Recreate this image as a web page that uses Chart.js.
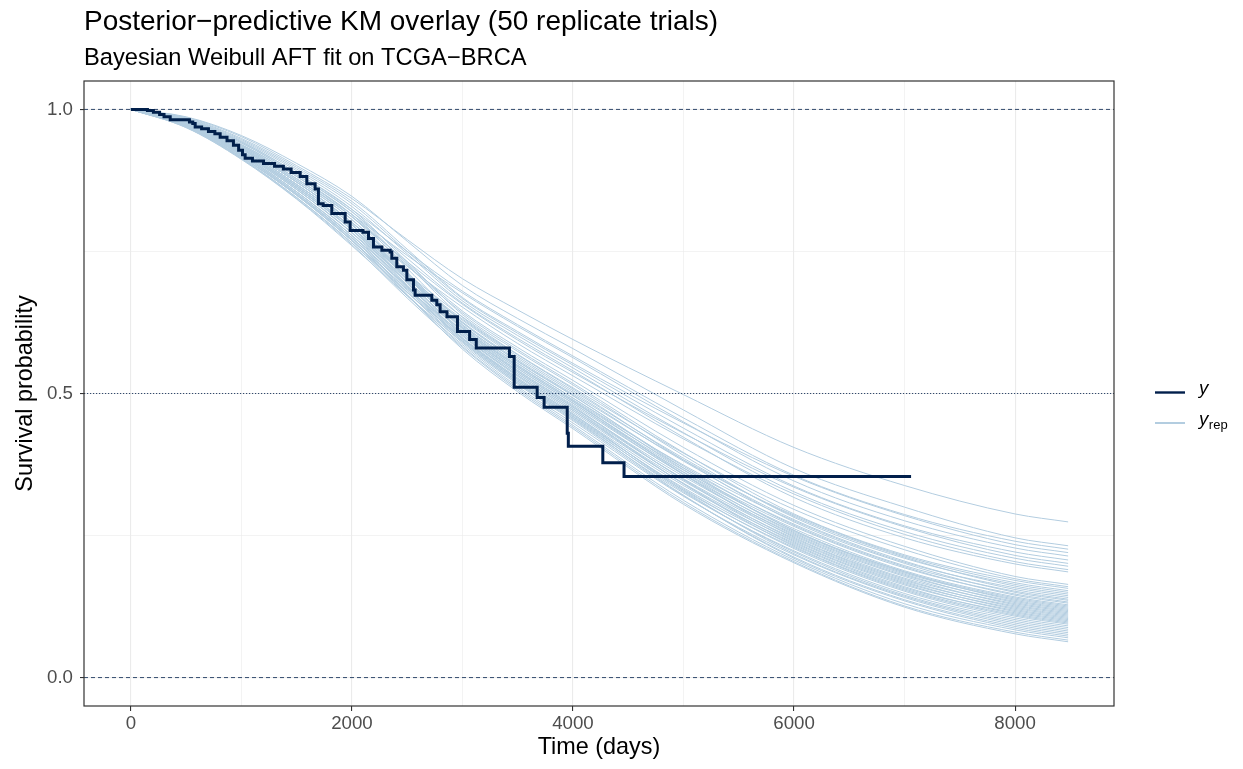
<!DOCTYPE html>
<html>
<head>
<meta charset="utf-8">
<title>Posterior-predictive KM overlay</title>
<script src="https://cdn.jsdelivr.net/npm/chart.js@4/dist/chart.umd.min.js"></script>
<style>
  html, body { margin: 0; padding: 0; background: #ffffff; }
  canvas { display: block; }
</style>
</head>
<body>
<canvas id="km" width="1243" height="769"></canvas>
<script>
// ---- Text ----
const titleText = 'Posterior\u2212predictive KM overlay (50 replicate trials)';
const subtitleText = 'Bayesian Weibull AFT fit on TCGA\u2212BRCA';
const xAxisTitle = 'Time (days)';
const yAxisTitle = 'Survival probability';

// ---- Observed Kaplan-Meier estimate (time in days, survival after each event) ----
const kmTimes = [0, 150, 204, 260, 300, 356, 530, 560, 582, 640,
  702, 760, 808, 870, 928, 975, 1010, 1034, 1100, 1200,
  1300, 1380, 1450, 1532, 1592, 1667, 1697, 1740, 1818, 1939,
  1984, 2100, 2150, 2195, 2271, 2346, 2361, 2406, 2466, 2497,
  2557, 2572, 2723, 2768, 2798, 2860, 2955, 3065, 3125, 3425,
  3468, 3676, 3739, 3948, 3958, 4270, 4462, 7059];
const kmSurv = [1, 0.998, 0.995, 0.991, 0.987, 0.982, 0.978, 0.975, 0.969, 0.966,
  0.961, 0.957, 0.951, 0.945, 0.937, 0.928, 0.920, 0.914, 0.909, 0.905,
  0.900, 0.895, 0.889, 0.882, 0.869, 0.860, 0.834, 0.831, 0.817, 0.802,
  0.787, 0.784, 0.773, 0.758, 0.752, 0.749, 0.738, 0.723, 0.717, 0.700,
  0.682, 0.673, 0.664, 0.656, 0.644, 0.635, 0.609, 0.595, 0.580, 0.565,
  0.511, 0.493, 0.476, 0.430, 0.407, 0.378, 0.354, 0.354];

// ---- Replicated KM curves (50 posterior-predictive trials) ----
const yrepTimes = [0, 500, 1000, 1500, 2000, 2500, 3000, 3500, 4000, 5000, 6000, 7000, 8000, 8480];
const yrep01 = [1, 0.986, 0.952, 0.901, 0.843, 0.771, 0.702, 0.647, 0.595, 0.498, 0.405, 0.338, 0.288, 0.274];
const yrep02 = [1, 0.987, 0.954, 0.905, 0.847, 0.768, 0.690, 0.632, 0.579, 0.471, 0.368, 0.300, 0.246, 0.232];
const yrep03 = [1, 0.982, 0.943, 0.888, 0.824, 0.750, 0.680, 0.621, 0.566, 0.457, 0.356, 0.287, 0.240, 0.226];
const yrep04 = [1, 0.985, 0.949, 0.898, 0.838, 0.754, 0.669, 0.609, 0.553, 0.448, 0.354, 0.285, 0.234, 0.220];
const yrep05 = [1, 0.980, 0.938, 0.882, 0.815, 0.743, 0.677, 0.618, 0.563, 0.450, 0.346, 0.276, 0.228, 0.214];
const yrep06 = [1, 0.984, 0.947, 0.895, 0.834, 0.750, 0.667, 0.606, 0.550, 0.439, 0.337, 0.267, 0.221, 0.207];
const yrep07 = [1, 0.979, 0.936, 0.878, 0.811, 0.732, 0.657, 0.594, 0.537, 0.430, 0.335, 0.265, 0.215, 0.201];
const yrep08 = [1, 0.983, 0.945, 0.892, 0.829, 0.746, 0.663, 0.602, 0.545, 0.431, 0.327, 0.257, 0.210, 0.196];
const yrep09 = [1, 0.977, 0.932, 0.872, 0.801, 0.724, 0.652, 0.588, 0.531, 0.420, 0.323, 0.252, 0.204, 0.190];
const yrep10 = [1, 0.981, 0.941, 0.885, 0.820, 0.738, 0.659, 0.597, 0.540, 0.423, 0.317, 0.246, 0.200, 0.186];
const yrep11 = [1, 0.980, 0.938, 0.882, 0.815, 0.729, 0.645, 0.581, 0.523, 0.405, 0.303, 0.231, 0.178, 0.164];
const yrep12 = [1, 0.975, 0.927, 0.865, 0.792, 0.711, 0.635, 0.569, 0.510, 0.395, 0.296, 0.225, 0.174, 0.160];
const yrep13 = [1, 0.979, 0.936, 0.878, 0.811, 0.725, 0.642, 0.577, 0.518, 0.396, 0.288, 0.216, 0.171, 0.157];
const yrep14 = [1, 0.976, 0.930, 0.868, 0.797, 0.710, 0.626, 0.559, 0.499, 0.383, 0.286, 0.214, 0.167, 0.153];
const yrep15 = [1, 0.982, 0.943, 0.888, 0.824, 0.732, 0.639, 0.574, 0.515, 0.391, 0.282, 0.210, 0.164, 0.150];
const yrep16 = [1, 0.974, 0.925, 0.862, 0.788, 0.706, 0.631, 0.565, 0.505, 0.386, 0.284, 0.212, 0.161, 0.147];
const yrep17 = [1, 0.978, 0.934, 0.875, 0.806, 0.713, 0.621, 0.553, 0.492, 0.374, 0.276, 0.203, 0.158, 0.144];
const yrep18 = [1, 0.973, 0.923, 0.859, 0.783, 0.702, 0.629, 0.562, 0.502, 0.381, 0.278, 0.205, 0.155, 0.141];
const yrep19 = [1, 0.977, 0.932, 0.872, 0.801, 0.709, 0.619, 0.550, 0.489, 0.369, 0.270, 0.197, 0.152, 0.138];
const yrep20 = [1, 0.981, 0.941, 0.885, 0.820, 0.727, 0.634, 0.568, 0.508, 0.383, 0.274, 0.201, 0.150, 0.136];
const yrep21 = [1, 0.976, 0.930, 0.868, 0.797, 0.705, 0.616, 0.547, 0.486, 0.365, 0.266, 0.193, 0.147, 0.133];
const yrep22 = [1, 0.972, 0.921, 0.855, 0.778, 0.697, 0.624, 0.556, 0.496, 0.372, 0.268, 0.195, 0.145, 0.131];
const yrep23 = [1, 0.978, 0.934, 0.875, 0.806, 0.710, 0.614, 0.544, 0.483, 0.362, 0.262, 0.188, 0.142, 0.128];
const yrep24 = [1, 0.975, 0.927, 0.865, 0.792, 0.705, 0.621, 0.553, 0.492, 0.366, 0.259, 0.186, 0.140, 0.126];
const yrep25 = [1, 0.971, 0.919, 0.852, 0.774, 0.689, 0.611, 0.541, 0.480, 0.358, 0.257, 0.184, 0.138, 0.124];
const yrep26 = [1, 0.980, 0.938, 0.882, 0.815, 0.720, 0.625, 0.557, 0.497, 0.369, 0.259, 0.186, 0.136, 0.122];
const yrep27 = [1, 0.974, 0.925, 0.862, 0.788, 0.696, 0.609, 0.538, 0.476, 0.354, 0.253, 0.180, 0.134, 0.120];
const yrep28 = [1, 0.977, 0.932, 0.872, 0.801, 0.708, 0.616, 0.547, 0.486, 0.361, 0.255, 0.182, 0.132, 0.118];
const yrep29 = [1, 0.970, 0.916, 0.849, 0.769, 0.684, 0.606, 0.535, 0.473, 0.350, 0.249, 0.175, 0.130, 0.116];
const yrep30 = [1, 0.976, 0.930, 0.868, 0.797, 0.704, 0.614, 0.544, 0.483, 0.357, 0.251, 0.178, 0.128, 0.114];
const yrep31 = [1, 0.973, 0.923, 0.859, 0.783, 0.691, 0.603, 0.532, 0.470, 0.346, 0.245, 0.171, 0.126, 0.112];
const yrep32 = [1, 0.979, 0.936, 0.878, 0.811, 0.714, 0.617, 0.549, 0.488, 0.358, 0.247, 0.173, 0.124, 0.110];
const yrep33 = [1, 0.972, 0.921, 0.855, 0.778, 0.687, 0.601, 0.530, 0.467, 0.342, 0.241, 0.167, 0.122, 0.108];
const yrep34 = [1, 0.975, 0.927, 0.865, 0.792, 0.699, 0.609, 0.538, 0.476, 0.349, 0.243, 0.169, 0.120, 0.106];
const yrep35 = [1, 0.969, 0.914, 0.845, 0.765, 0.678, 0.598, 0.527, 0.464, 0.338, 0.237, 0.163, 0.118, 0.104];
const yrep36 = [1, 0.977, 0.932, 0.872, 0.801, 0.705, 0.610, 0.540, 0.478, 0.348, 0.239, 0.165, 0.116, 0.102];
const yrep37 = [1, 0.971, 0.919, 0.852, 0.774, 0.682, 0.596, 0.524, 0.460, 0.334, 0.233, 0.158, 0.114, 0.100];
const yrep38 = [1, 0.974, 0.925, 0.862, 0.788, 0.694, 0.603, 0.532, 0.470, 0.341, 0.235, 0.160, 0.112, 0.098];
const yrep39 = [1, 0.976, 0.930, 0.868, 0.797, 0.701, 0.606, 0.535, 0.473, 0.341, 0.231, 0.156, 0.110, 0.096];
const yrep40 = [1, 0.970, 0.916, 0.849, 0.769, 0.678, 0.593, 0.521, 0.457, 0.330, 0.229, 0.154, 0.108, 0.094];
const yrep41 = [1, 0.973, 0.923, 0.859, 0.783, 0.688, 0.597, 0.525, 0.462, 0.332, 0.227, 0.152, 0.105, 0.091];
const yrep42 = [1, 0.968, 0.912, 0.842, 0.760, 0.672, 0.591, 0.518, 0.454, 0.325, 0.223, 0.148, 0.102, 0.088];
const yrep43 = [1, 0.972, 0.921, 0.855, 0.778, 0.685, 0.595, 0.522, 0.459, 0.327, 0.221, 0.145, 0.099, 0.085];
const yrep44 = [1, 0.975, 0.927, 0.865, 0.792, 0.695, 0.598, 0.527, 0.464, 0.329, 0.218, 0.143, 0.096, 0.082];
const yrep45 = [1, 0.969, 0.914, 0.845, 0.765, 0.672, 0.586, 0.512, 0.448, 0.319, 0.216, 0.141, 0.093, 0.079];
const yrep46 = [1, 0.971, 0.919, 0.852, 0.774, 0.679, 0.589, 0.516, 0.452, 0.320, 0.212, 0.137, 0.090, 0.076];
const yrep47 = [1, 0.974, 0.925, 0.862, 0.788, 0.689, 0.592, 0.519, 0.456, 0.321, 0.210, 0.135, 0.087, 0.073];
const yrep48 = [1, 0.970, 0.916, 0.849, 0.769, 0.674, 0.583, 0.509, 0.444, 0.312, 0.207, 0.130, 0.084, 0.070];
const yrep49 = [1, 0.968, 0.913, 0.843, 0.762, 0.668, 0.581, 0.506, 0.441, 0.308, 0.204, 0.126, 0.080, 0.066];
const yrep50 = [1, 0.970, 0.917, 0.850, 0.771, 0.673, 0.578, 0.503, 0.438, 0.305, 0.202, 0.124, 0.077, 0.063];

// ---- Axes ----
const xMajorTicks = [0, 2000, 4000, 6000, 8000];
const xMinorTicks = [1000, 3000, 5000, 7000];
const yMajorTicks = [0, 0.5, 1];
const yMinorTicks = [0.25, 0.75];
const xLimits = [-424, 8895];
const yLimits = [-0.05, 1.05];

// ---- Reference lines ----
const dashedLevels = [0, 1];
const dottedLevels = [0.5];

// ---- Styling ----
const FONT = '"Liberation Sans", Arial, Helvetica, sans-serif';
const COL_Y = '#011f4b';
const COL_YREP = '#b3cde0';

const yrepDraws = [yrep01, yrep02, yrep03, yrep04, yrep05, yrep06, yrep07, yrep08, yrep09, yrep10,
  yrep11, yrep12, yrep13, yrep14, yrep15, yrep16, yrep17, yrep18, yrep19, yrep20,
  yrep21, yrep22, yrep23, yrep24, yrep25, yrep26, yrep27, yrep28, yrep29, yrep30,
  yrep31, yrep32, yrep33, yrep34, yrep35, yrep36, yrep37, yrep38, yrep39, yrep40,
  yrep41, yrep42, yrep43, yrep44, yrep45, yrep46, yrep47, yrep48, yrep49, yrep50];

const datasets = [];

// observed curve on top
datasets.push({
  label: 'y',
  data: kmTimes.map((t, i) => ({ x: t, y: kmSurv[i] })),
  stepped: 'before',
  borderColor: COL_Y,
  borderWidth: 3,
  borderJoinStyle: 'miter',
  borderCapStyle: 'butt',
  pointRadius: 0,
  order: 0
});

// horizontal guides at 0, 0.5 and 1
dashedLevels.forEach(v => datasets.push({
  label: 'guide',
  data: [{ x: xLimits[0], y: v }, { x: xLimits[1], y: v }],
  borderColor: COL_Y,
  borderWidth: 0.8,
  borderDash: [4, 3],
  pointRadius: 0,
  order: 1
}));
dottedLevels.forEach(v => datasets.push({
  label: 'guide',
  data: [{ x: xLimits[0], y: v }, { x: xLimits[1], y: v }],
  borderColor: COL_Y,
  borderWidth: 0.8,
  borderDash: [1.2, 1.8],
  pointRadius: 0,
  order: 1
}));

// replicate curves underneath
yrepDraws.forEach(draw => datasets.push({
  label: 'yrep',
  data: yrepTimes.map((t, i) => ({ x: t, y: draw[i] })),
  borderColor: COL_YREP,
  borderWidth: 1,
  cubicInterpolationMode: 'monotone',
  pointRadius: 0,
  order: 2
}));

const isMajorX = v => xMajorTicks.includes(v);
const isMajorY = v => yMajorTicks.includes(v);

// panel border drawn over the data
const panelFrame = {
  id: 'panelFrame',
  afterDatasetsDraw(chart) {
    const { ctx, chartArea: a } = chart;
    ctx.save();
    ctx.strokeStyle = '#333333';
    ctx.lineWidth = 1.2;
    ctx.strokeRect(a.left, a.top, a.right - a.left, a.bottom - a.top);
    ctx.restore();
  }
};

// title, subtitle and the line key on the right
const headerAndKey = {
  id: 'headerAndKey',
  afterDraw(chart) {
    const { ctx, chartArea: a } = chart;
    ctx.save();
    ctx.fillStyle = '#000000';
    ctx.textAlign = 'left';
    ctx.textBaseline = 'alphabetic';
    ctx.font = '28px ' + FONT;
    ctx.fillText(titleText, a.left, 30);
    ctx.font = '23.7px ' + FONT;
    ctx.fillText(subtitleText, a.left, 65);

    const keyX0 = a.right + 41, keyX1 = a.right + 71, textX = a.right + 85;
    const yMid = (a.top + a.bottom) / 2;
    // y
    ctx.strokeStyle = COL_Y;
    ctx.lineWidth = 2.4;
    ctx.beginPath();
    ctx.moveTo(keyX0, yMid - 1);
    ctx.lineTo(keyX1, yMid - 1);
    ctx.stroke();
    // yrep
    ctx.strokeStyle = COL_YREP;
    ctx.lineWidth = 2;
    ctx.beginPath();
    ctx.moveTo(keyX0, yMid + 29.5);
    ctx.lineTo(keyX1, yMid + 29.5);
    ctx.stroke();

    ctx.fillStyle = '#000000';
    ctx.font = 'italic 18.7px ' + FONT;
    ctx.fillText('y', textX, yMid);
    ctx.fillText('y', textX, yMid + 31);
    const w = ctx.measureText('y').width;
    ctx.font = '13px ' + FONT;
    ctx.fillText('rep', textX + w + 0.5, yMid + 35.5);
    ctx.restore();
  }
};

Chart.defaults.font.family = FONT;

new Chart(document.getElementById('km'), {
  type: 'line',
  data: { datasets },
  plugins: [panelFrame, headerAndKey],
  options: {
    responsive: false,
    animation: false,
    devicePixelRatio: 1,
    layout: { padding: { top: 81, right: 129, bottom: 0, left: 0 } },
    plugins: {
      legend: { display: false },
      tooltip: { enabled: false },
      title: { display: false }
    },
    scales: {
      x: {
        type: 'linear',
        min: xLimits[0],
        max: xLimits[1],
        afterBuildTicks(scale) {
          scale.ticks = xMajorTicks.concat(xMinorTicks).sort((a, b) => a - b).map(v => ({ value: v }));
        },
        afterFit(scale) { scale.height = 63; },
        border: { display: false },
        grid: {
          color: '#ebebeb',
          lineWidth: ctx => isMajorX(ctx.tick.value) ? 1.1 : 0.6,
          tickColor: ctx => isMajorX(ctx.tick.value) ? '#333333' : 'rgba(0,0,0,0)',
          tickWidth: 1.1,
          tickLength: 5,
          drawTicks: true
        },
        ticks: {
          autoSkip: false,
          maxRotation: 0,
          color: '#4d4d4d',
          font: { size: 18.7 },
          padding: 2,
          callback: v => isMajorX(v) ? String(v) : ''
        },
        title: {
          display: true,
          text: xAxisTitle,
          color: '#000000',
          font: { size: 23.4 },
          padding: { top: 0, bottom: 7 }
        }
      },
      y: {
        type: 'linear',
        min: yLimits[0],
        max: yLimits[1],
        afterBuildTicks(scale) {
          scale.ticks = yMajorTicks.concat(yMinorTicks).sort((a, b) => a - b).map(v => ({ value: v }));
        },
        afterFit(scale) { scale.width = 84; },
        border: { display: false },
        grid: {
          color: '#ebebeb',
          lineWidth: ctx => isMajorY(ctx.tick.value) ? 1.1 : 0.6,
          tickColor: ctx => isMajorY(ctx.tick.value) ? '#333333' : 'rgba(0,0,0,0)',
          tickWidth: 1.1,
          tickLength: 4,
          drawTicks: true
        },
        ticks: {
          autoSkip: false,
          color: '#4d4d4d',
          font: { size: 18.7 },
          padding: 7,
          callback: v => isMajorY(v) ? v.toFixed(1) : ''
        },
        title: {
          display: true,
          text: yAxisTitle,
          color: '#000000',
          font: { size: 23.4 },
          padding: { top: 12, bottom: 0 }
        }
      }
    }
  }
});
</script>
</body>
</html>
